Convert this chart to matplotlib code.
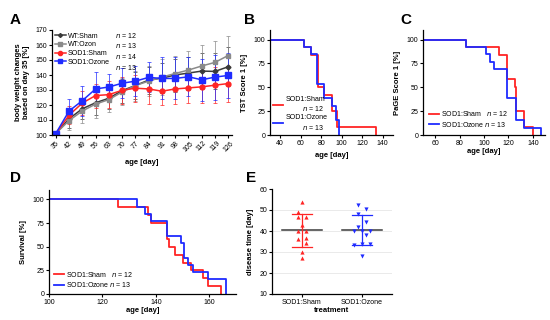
import numpy as np
import matplotlib
matplotlib.use("Agg")
import matplotlib.pyplot as plt
from matplotlib.lines import Line2D

plt.rcParams['font.family'] = ['Liberation Sans', 'DejaVu Sans']
plt.rcParams['font.size'] = 5
plt.rcParams['axes.linewidth'] = 0.9

# ---- panel A: body weight ----
days = [35, 42, 49, 56, 63, 70, 77, 84, 91, 98, 105, 112, 119, 126]
wt_sham = [101, 110.8, 117.5, 121.5, 124.5, 129.6, 133, 136.6, 137.9, 140, 141.3, 142.6, 142.4, 145.5]
wt_sham_sd = [0, 6, 7, 8, 7, 8, 9, 9, 10, 11, 11, 12, 12, 13]
wt_ozon = [101, 109.6, 116, 120.6, 123.6, 128.7, 133, 135.9, 138.6, 141, 143.3, 146, 148.4, 153]
wt_ozon_sd = [0, 6, 8, 9, 8, 9, 10, 10, 12, 12, 13, 14, 14, 13]
sod_sham = [101, 113.2, 121.3, 126.3, 126.9, 129.8, 131.2, 130.7, 129.2, 130.7, 131.4, 132.1, 133.2, 134.3]
sod_sham_sd = [0, 6, 8, 8, 9, 9, 9, 10, 9, 10, 10, 11, 12, 12]
sod_ozone = [101, 116, 122.9, 130.7, 132, 134.5, 135.9, 138.4, 137.7, 137.7, 138.8, 136.8, 138.6, 139.7]
sod_ozone_sd = [0, 8, 10, 11, 9, 10, 10, 10, 14, 14, 13, 14, 15, 15]

# ---- panel B: TST score ----
tst_sham_t = [30, 63, 70, 77, 83, 90, 95, 133]
tst_sham_v = [100, 91.7, 83.3, 50, 41.7, 25, 8.3, 0]
tst_ozone_t = [30, 63, 70, 76, 83, 90, 94, 97]
tst_ozone_v = [100, 92.3, 84.6, 53.8, 38.5, 30.8, 15.4, 0]

# ---- panel C: PaGE score ----
page_sham_t = [50, 85, 112, 119, 125, 126, 133, 140]
page_sham_v = [100, 91.7, 83.3, 58.3, 50, 25, 8.3, 0]
page_ozone_t = [50, 85, 102, 105, 108, 119, 126, 133, 147]
page_ozone_v = [100, 92.3, 84.6, 76.9, 69.2, 38.5, 15.4, 7.7, 0]

# ---- panel D: survival ----
surv_sham_t = [100, 126, 137, 138, 144, 145, 147, 150, 153, 157.5, 159.5, 164.4]
surv_sham_v = [100, 91.7, 83.3, 75, 58.3, 50, 41.7, 33.3, 25, 16.7, 8.3, 0]
surv_ozone_t = [100, 133, 136, 138, 144, 149.4, 150.5, 152, 153.8, 159.5, 166.3]
surv_ozone_v = [100, 92.3, 84.6, 76.9, 61.5, 53.8, 38.5, 30.8, 23.1, 15.4, 0]

# ---- panel E: disease time ----
groups = ['SOD1:Sham', 'SOD1:Ozone']
dis_sham = [53.8, 48.9, 46.8, 46.8, 42.9, 40, 40, 36.8, 36, 34.4, 30, 27]
dis_ozone = [52.5, 50.3, 48, 44.2, 42.1, 40, 40, 40, 38, 34, 34, 33.2, 28]

RED = '#ff2424'
BLUE = '#1f2bff'
DGRAY = '#3a3a3a'
LGRAY = '#8a8a8a'


def px_axes(fig, l, t, r, b):
    W, H = 550.0, 320.0
    return fig.add_axes([l / W, 1 - b / H, (r - l) / W, (b - t) / H])


def style(ax):
    for s in ['top', 'right']:
        ax.spines[s].set_visible(False)
    ax.tick_params(length=2, width=0.8, pad=1.5, labelsize=5)


# tied values are spread sideways, near neighbours alternate left/right
def jitter(vals, tie=1.0, near=2.6, step=0.13, nudge=0.07):
    vals = np.asarray(vals, dtype=float)
    order = np.argsort(vals)
    off = np.zeros(len(vals))
    ties = [[order[0]]]
    for i in order[1:]:
        if vals[i] - vals[ties[-1][-1]] < tie:
            ties[-1].append(i)
        else:
            ties.append([i])
    sign = 1
    for g in ties:
        k = len(g)
        if k > 1:
            off[g] = (np.arange(k) - (k - 1) / 2) * step
            continue
        d = np.abs(vals - vals[g[0]])
        d[g[0]] = np.inf
        if d.min() < near:
            off[g[0]] = sign * nudge
            sign = -sign
    return off


fig = plt.figure(figsize=(5.5, 3.2), dpi=100)

# A
axA = px_axes(fig, 52, 30, 232, 135)
series = [(wt_sham, wt_sham_sd, DGRAY, 'D', 2.5, 'WT:Sham', 12),
          (wt_ozon, wt_ozon_sd, LGRAY, 's', 3.5, 'WT:Ozon', 13),
          (sod_sham, sod_sham_sd, RED, 'o', 3.5, 'SOD1:Sham', 14),
          (sod_ozone, sod_ozone_sd, BLUE, 's', 4, 'SOD1:Ozone', 13)]
handles = []
for vals, sd, c, m, ms, lab, n in series:
    axA.errorbar(days, vals, yerr=sd, color=c, marker=m, ms=ms, lw=1.1,
                 elinewidth=0.5, capsize=1.2, capthick=0.5, ecolor=c)
    handles.append(Line2D([], [], color=c, marker=m, ms=ms - 0.5, lw=1.1))
blank = [Line2D([], [], linestyle='none') for _ in series]
labels = [s[5] for s in series] + ['$n$ = %d' % s[6] for s in series]
axA.legend(handles + blank, labels, ncol=2, loc='upper left', frameon=False,
           fontsize=5, handlelength=1.6, handletextpad=0.3, columnspacing=-1.2,
           labelspacing=0.25, borderaxespad=0.0, bbox_to_anchor=(0.0, 1.02))
axA.set_xlim(33, 128)
axA.set_ylim(100, 170)
axA.set_xticks(days)
axA.set_xticklabels(days, rotation=45)
axA.set_yticks(range(100, 171, 10))
axA.set_xlabel('age [day]', fontweight='bold', fontsize=5.5, labelpad=4)
axA.set_ylabel('body weight changes\nbased on day 35 [%]', fontweight='bold', fontsize=5.5)
style(axA)

# B
axB = px_axes(fig, 270, 30, 393, 135)
axB.step(tst_sham_t, tst_sham_v, where='post', color=RED, lw=1.3,
         label='SOD1:Sham\n         $n$ = 12')
axB.step(tst_ozone_t, tst_ozone_v, where='post', color=BLUE, lw=1.3,
         label='SOD1:Ozone\n         $n$ = 13')
axB.set_xlim(30, 150)
axB.set_ylim(0, 110)
axB.set_xticks([40, 60, 80, 100, 120, 140])
axB.set_yticks([0, 25, 50, 75, 100])
axB.set_xlabel('age [day]', fontweight='bold', fontsize=5.5)
axB.set_ylabel('TST Score 1 [%]', fontweight='bold', fontsize=5.5)
axB.legend(loc='lower left', frameon=False, fontsize=5, handlelength=1.4,
           handletextpad=0.3, labelspacing=0.1, borderaxespad=0.1)
style(axB)

# C
axC = px_axes(fig, 423, 30, 545, 135)
axC.step(page_sham_t, page_sham_v, where='post', color=RED, lw=1.3,
         label='SOD1:Sham   $n$ = 12')
axC.step(page_ozone_t, page_ozone_v, where='post', color=BLUE, lw=1.3,
         label='SOD1:Ozone $n$ = 13')
axC.set_xlim(50, 150)
axC.set_ylim(0, 110)
axC.set_xticks([60, 80, 100, 120, 140])
axC.set_yticks([0, 25, 50, 75, 100])
axC.set_xlabel('age [day]', fontweight='bold', fontsize=5.5, labelpad=1)
axC.set_ylabel('PaGE Score 1 [%]', fontweight='bold', fontsize=5.5)
axC.legend(loc='lower left', frameon=False, fontsize=5, handlelength=1.4,
           handletextpad=0.3, labelspacing=0.2, borderaxespad=0.5)
style(axC)

# D
axD = px_axes(fig, 49, 190, 236, 294)
axD.step(surv_sham_t, surv_sham_v, where='post', color=RED, lw=1.3,
         label='SOD1:Sham   $n$ = 12')
axD.step(surv_ozone_t, surv_ozone_v, where='post', color=BLUE, lw=1.3,
         label='SOD1:Ozone $n$ = 13')
axD.set_xlim(100, 170)
axD.set_ylim(0, 110)
axD.set_xticks([100, 120, 140, 160])
axD.set_yticks([0, 25, 50, 75, 100])
axD.set_xlabel('age [day]', fontweight='bold', fontsize=5.5, labelpad=1)
axD.set_ylabel('Survival [%]', fontweight='bold', fontsize=5.5)
axD.legend(loc='lower left', frameon=False, fontsize=5, handlelength=1.4,
           handletextpad=0.3, labelspacing=0.2, borderaxespad=0.3)
style(axD)

# E
axE = px_axes(fig, 272, 189, 392, 294)
for yv in [20, 30, 40, 50]:
    axE.axhline(yv, color='#e6e6e6', lw=0.6, zorder=0)
for i, (vals, c, m) in enumerate([(dis_sham, RED, '^'), (dis_ozone, BLUE, 'v')]):
    v = np.asarray(vals)
    axE.scatter(i + jitter(v), v, marker=m, color=c, s=9, zorder=3, linewidths=0)
    mu, sd = v.mean(), v.std(ddof=1)
    axE.plot([i - 0.33, i + 0.33], [mu, mu], color=DGRAY, lw=1.1, zorder=2)
    axE.plot([i, i], [mu - sd, mu + sd], color=c, lw=0.9, zorder=2)
    for yy in (mu - sd, mu + sd):
        axE.plot([i - 0.16, i + 0.16], [yy, yy], color=c, lw=0.9, zorder=2)
axE.set_xlim(-0.5, 1.5)
axE.set_ylim(10, 60)
axE.set_xticks([0, 1])
axE.set_xticklabels(groups)
axE.set_yticks(range(10, 61, 10))
axE.set_xlabel('treatment', fontweight='bold', fontsize=5.5, labelpad=1)
axE.set_ylabel('disease time [day]', fontweight='bold', fontsize=5.5)
style(axE)

# panel letters
for lab, x, y in [('A', 10, 20), ('B', 244, 20), ('C', 400, 20), ('D', 10, 178), ('E', 246, 178)]:
    fig.text(x / 550, 1 - y / 320, lab, fontsize=11, fontweight='bold', va='center')

fig.savefig('out.png', dpi=100)
